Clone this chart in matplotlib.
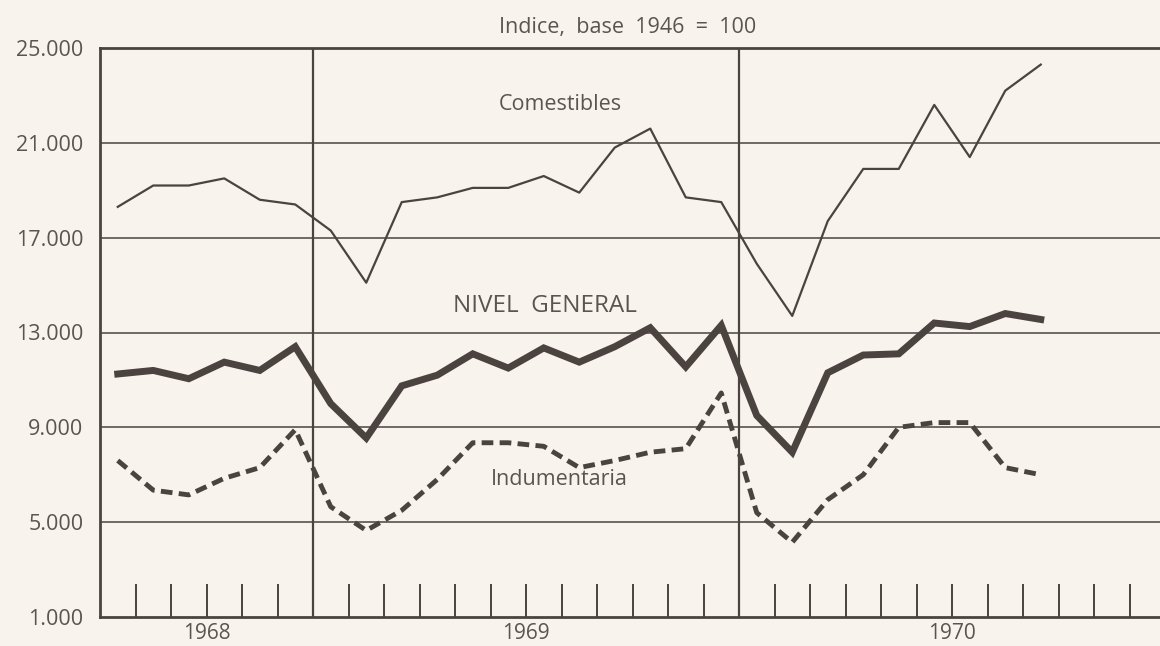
import matplotlib
matplotlib.use("Agg")
import matplotlib.pyplot as plt
import numpy as np

# monthly index values, July 1968 .. September 1970 (base 1946 = 100)
comestibles = [18300, 19200, 19200, 19500, 18600, 18400, 17300, 15100, 18500,
               18700, 19100, 19100, 19600, 18900, 20800, 21600, 18700, 18500,
               15900, 13700, 17700, 19900, 19900, 22600, 20400, 23200, 24300]
nivel_general = [11250, 11400, 11050, 11750, 11400, 12400, 10000, 8550, 10750,
                 11200, 12100, 11500, 12350, 11750, 12400, 13200, 11550, 13300,
                 9500, 7950, 11300, 12050, 12100, 13400, 13250, 13800, 13550]
indumentaria = [7600, 6350, 6150, 6850, 7300, 8900, 5650, 4650, 5500,
                6800, 8350, 8350, 8200, 7300, 7600, 7950, 8100, 10450,
                5400, 4150, 5950, 7000, 9000, 9200, 9200, 7300, 7000]

y_ticks = [1000, 5000, 9000, 13000, 17000, 21000, 25000]
year_labels = ["1968", "1969", "1970"]
year_label_pos = [3, 12, 24]      # months from July 1968
year_breaks = [6, 18]             # January 1969, January 1970

bg = "#f9f3ee"
ink = "#4a4340"
text_c = "#5b5451"

plt.rcParams["font.family"] = ["Open Sans", "DejaVu Sans"]

fig = plt.figure(figsize=(11.6, 6.46), dpi=100, facecolor=bg)
ax = fig.add_axes([100 / 1160, 29 / 646, 1065 / 1160, 569 / 646], facecolor=bg)

x = np.arange(len(comestibles)) + 0.5

# horizontal rules
for v in y_ticks[1:-1]:
    ax.axhline(v, color=ink, linewidth=1.1, zorder=1)
for b in year_breaks:
    ax.axvline(b, color=ink, linewidth=1.6, zorder=1)

ax.plot(x, comestibles, color=ink, linewidth=1.6, zorder=3)
ax.plot(x, nivel_general, color=ink, linewidth=5, solid_joinstyle="miter", zorder=3)
ax.plot(x, indumentaria, color=ink, linewidth=3.5, dashes=(2.4, 1.3), zorder=3)

label_kw = dict(ha="center", va="center", color=text_c)
ax.text(12.96, 22600, "Comestibles", fontsize=15.5, **label_kw)
ax.text(12.54, 14100, "NIVEL  GENERAL", fontsize=17.5, **label_kw)
ax.text(12.93, 6780, "Indumentaria", fontsize=15.5, **label_kw)

ax.set_xlim(0, 30)
ax.set_ylim(1000, 25000)

ax.set_yticks(y_ticks)
ax.set_yticklabels([f"{v:,}".replace(",", ".") for v in y_ticks])
ax.tick_params(axis="y", length=0, pad=12, labelsize=15.5, labelcolor=text_c)

ax.xaxis.remove_overlapping_locs = False
ax.set_xticks(year_label_pos)
ax.set_xticklabels(year_labels)
ax.set_xticks(np.arange(1, 30), minor=True)
ax.tick_params(axis="x", which="major", length=0, pad=4, labelsize=15, labelcolor=text_c)
ax.tick_params(axis="x", which="minor", direction="in", length=24, width=1.4, color=ink)

for side in ["left", "bottom", "top"]:
    ax.spines[side].set_color(ink)
    ax.spines[side].set_linewidth(2)
ax.spines["right"].set_visible(False)

fig.text(628 / 1160, 1 - 27 / 646, "Indice,  base  1946  =  100", ha="center", va="center",
         fontsize=15.5, color=text_c)

fig.savefig("out.png", dpi=100, facecolor=bg)
